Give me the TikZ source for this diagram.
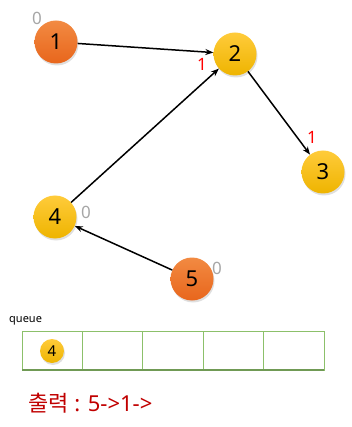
\documentclass[tikz,border=0pt]{standalone}
\usepackage{fontspec}
\setmainfont{Noto Sans}
\newfontfamily\krfont{Noto Sans CJK KR}
\usetikzlibrary{arrows.meta,shadows}
\definecolor{orangetop}{HTML}{F28A42}
\definecolor{orangebot}{HTML}{E8661C}
\definecolor{yellowtop}{HTML}{FFCB3A}
\definecolor{yellowbot}{HTML}{EEB400}
\definecolor{qgreen}{HTML}{8CC06A}
\definecolor{outred}{HTML}{C00000}
\tikzset{
  vertex/.style={circle, minimum size=43pt, inner sep=0pt,
    font=\fontsize{22}{22}\selectfont,
    drop shadow={shadow xshift=1pt, shadow yshift=-2pt, opacity=0.25}},
  startv/.style={vertex, top color=orangetop, bottom color=orangebot},
  waitv/.style={vertex, top color=yellowtop, bottom color=yellowbot},
  indeg/.style={font=\fontsize{17}{17}\selectfont, inner sep=0pt},
  edge/.style={line width=1.5pt, -{Stealth[length=8pt,width=6pt]}}
}
\begin{document}
\begin{tikzpicture}[x=1pt, y=-1pt]
  \useasboundingbox (0,0) rectangle (351,427);
  % Place the vertices
  \node[startv] (v1) at (56,42) {1};
  \node[waitv]  (v2) at (235,54) {2};
  \node[waitv]  (v3) at (323,172) {3};
  \node[waitv]  (v4) at (55,217) {4};
  \node[startv] (v5) at (192,279) {5};
  % In-degree labels
  \node[indeg, gray!70] (d1) at (37,18) {0};
  \node[indeg, red] (d2) at (202,64) {1};
  \node[indeg, red] (d3) at (312,137) {1};
  \node[indeg, gray!70] (d4) at (86,212) {0};
  \node[indeg, gray!70] (d5) at (217,268) {0};
  % Draw the edges
  \draw[edge] (v1) -- (v2);
  \draw[edge] (v2) -- (v3);
  \draw[edge] (v4) -- (v2);
  \draw[edge] (v5) -- (v4);
  % Draw the queue
  \node[font=\fontsize{11}{11}\selectfont, anchor=west, inner sep=0pt] (qlabel) at (9,321) {queue};
  \foreach \i in {0,...,4} {
    \draw[qgreen, line width=1pt] (22+60.4*\i,331) rectangle (22+60.4*\i+60.4,370);
  }
  \draw[qgreen!80!black, line width=2pt] (22,370) -- (324,370);
  \node[vertex, top color=yellowtop, bottom color=yellowbot, minimum size=24pt,
    font=\fontsize{15}{15}\selectfont] (q1) at (52,351) {4};
  % Output line
  \node[outred, anchor=west, inner sep=0pt, font=\fontsize{22}{22}\selectfont] (out) at (28,403)
    {{\krfont 출력} : 5-{}>1-{}>};
\end{tikzpicture}
\end{document}
